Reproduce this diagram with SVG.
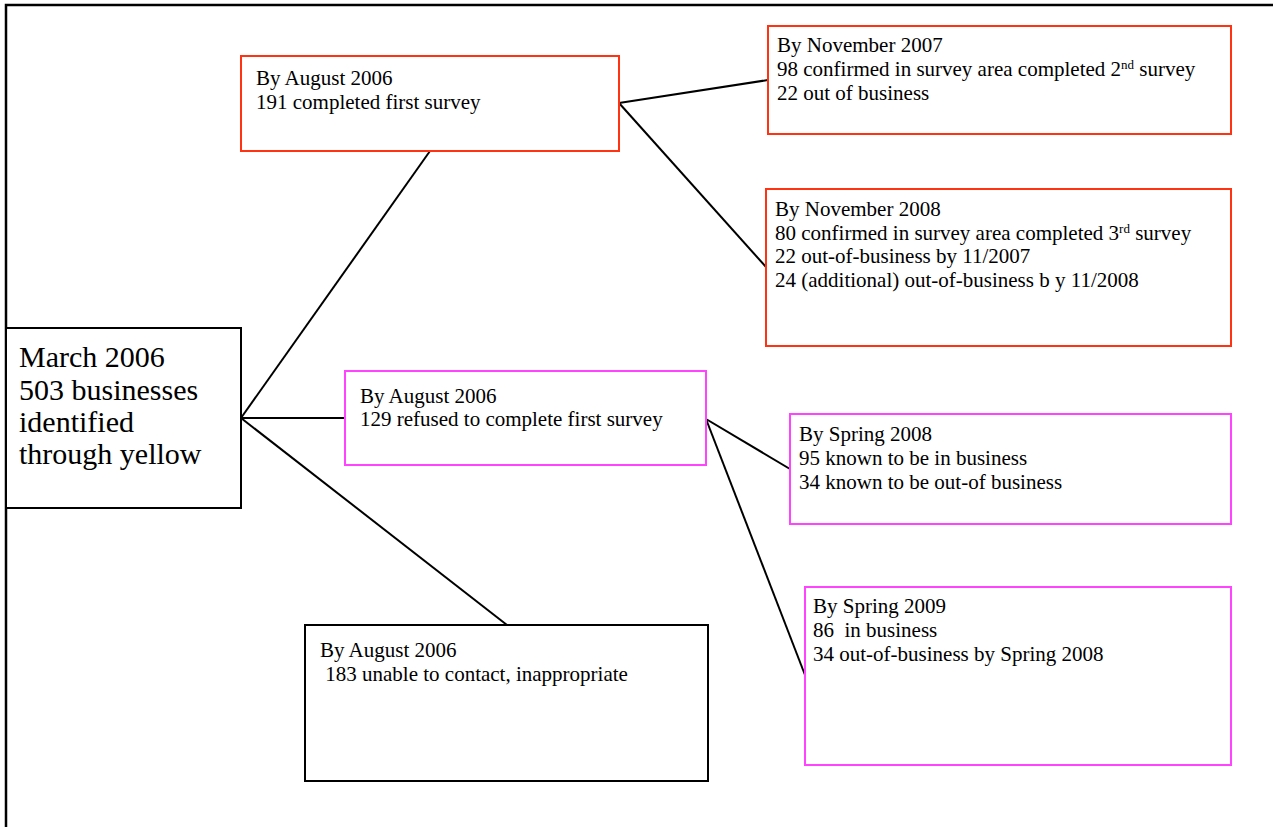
<svg xmlns="http://www.w3.org/2000/svg" width="1273" height="827" viewBox="0 0 1273 827">
<style>
  text { font-family: "Liberation Serif", "Times New Roman", serif; font-size: 21px; fill: #000; white-space: pre; }
  .root { font-size: 30px; }
  .box { fill: #fff; stroke-width: 2; }
  .red { stroke: #ff3311; }
  .mag { stroke: #ff44ff; }
  .blk { stroke: #000; }
  .conn line { stroke: #000; stroke-width: 2; }
  .frame { stroke: #000; stroke-width: 2.5; fill: none; }
</style>
<rect width="1273" height="827" fill="#fff"/>
<path class="frame" d="M6,827 V5 H1273"/>
<g id="connectors" class="conn">
  <line x1="241" y1="418" x2="430" y2="151"/>
  <line x1="241" y1="418" x2="345" y2="418"/>
  <line x1="241" y1="418" x2="507" y2="625"/>
  <line x1="619" y1="103" x2="768" y2="80"/>
  <line x1="619" y1="103" x2="766" y2="267"/>
  <line x1="706" y1="419" x2="790" y2="469"/>
  <line x1="706" y1="419" x2="805" y2="675"/>
</g>
<g id="root">
  <rect class="box blk" x="6" y="328" width="235" height="180"/>
  <text class="root" x="19" y="367">March 2006</text>
  <text class="root" x="19" y="400">503 businesses</text>
  <text class="root" x="19" y="432">identified</text>
  <text class="root" x="19" y="464">through yellow</text>
</g>
<g id="completed">
  <rect class="box red" x="241" y="56" width="378" height="95"/>
  <text x="256" y="85">By August 2006</text>
  <text x="256" y="109">191 completed first survey</text>
</g>
<g id="nov2007">
  <rect class="box red" x="768" y="26" width="463" height="108"/>
  <text x="777" y="52">By November 2007</text>
  <text x="777" y="76">98 confirmed in survey area completed 2<tspan font-size="13" dy="-7">nd</tspan><tspan dy="7"> survey</tspan></text>
  <text x="777" y="100">22 out of business</text>
</g>
<g id="nov2008">
  <rect class="box red" x="766" y="189" width="465" height="157"/>
  <text x="775" y="216">By November 2008</text>
  <text x="775" y="240">80 confirmed in survey area completed 3<tspan font-size="13" dy="-7">rd</tspan><tspan dy="7"> survey</tspan></text>
  <text x="775" y="263">22 out-of-business by 11/2007</text>
  <text x="775" y="287">24 (additional) out-of-business b y 11/2008</text>
</g>
<g id="refused">
  <rect class="box mag" x="345" y="371" width="361" height="94"/>
  <text x="360" y="403">By August 2006</text>
  <text x="360" y="426">129 refused to complete first survey</text>
</g>
<g id="spring2008">
  <rect class="box mag" x="790" y="414" width="441" height="110"/>
  <text x="799" y="441">By Spring 2008</text>
  <text x="799" y="465">95 known to be in business</text>
  <text x="799" y="489">34 known to be out-of business</text>
</g>
<g id="spring2009">
  <rect class="box mag" x="805" y="587" width="426" height="178"/>
  <text x="813" y="613">By Spring 2009</text>
  <text x="813" y="637">86  in business</text>
  <text x="813" y="661">34 out-of-business by Spring 2008</text>
</g>
<g id="unable">
  <rect class="box blk" x="305" y="625" width="403" height="156"/>
  <text x="320" y="657">By August 2006</text>
  <text x="320" y="681"> 183 unable to contact, inappropriate</text>
</g>
</svg>
